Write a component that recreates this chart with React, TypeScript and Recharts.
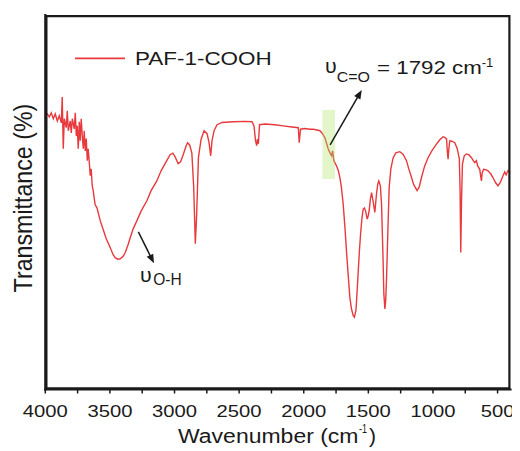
import React from 'react';
import { LineChart, Line, XAxis, YAxis, ReferenceArea, ReferenceLine, Legend } from 'recharts';

const FONT = "'Liberation Sans', Arial, Helvetica, sans-serif";
const RED = '#e8393d';
const INK = '#1a1a1a';

const seriesName = 'PAF-1-COOH';

const wavenumbers = [
  4000, 3985, 3969, 3954, 3938, 3923, 3907, 3892, 3876, 3869,
  3861, 3853, 3838, 3830, 3822, 3807, 3799, 3791, 3776, 3768,
  3760, 3753, 3745, 3737, 3730, 3722, 3714, 3706, 3699, 3691,
  3683, 3675, 3668, 3660, 3652, 3645, 3637, 3629, 3621, 3614,
  3600, 3575, 3549, 3529, 3498, 3475, 3459, 3441, 3420, 3397,
  3382, 3359, 3343, 3320, 3291, 3258, 3214, 3181, 3137, 3104,
  3060, 3034, 3013, 2995, 2972, 2953, 2931, 2910, 2899, 2883,
  2866, 2852, 2839, 2829, 2815, 2794, 2771, 2748, 2733, 2720,
  2710, 2694, 2671, 2632, 2547, 2454, 2400, 2385, 2373, 2364,
  2358, 2351, 2342, 2300, 2223, 2158, 2091, 2042, 2035, 2025,
  1991, 1952, 1926, 1898, 1875, 1859, 1836, 1811, 1797, 1784,
  1777, 1767, 1746, 1732, 1720, 1709, 1695, 1682, 1668, 1654,
  1643, 1631, 1617, 1608, 1596, 1589, 1578, 1569, 1560, 1550,
  1540, 1530, 1519, 1509, 1501, 1494, 1484, 1475, 1463, 1450,
  1437, 1427, 1419, 1407, 1398, 1388, 1380, 1372, 1366, 1359,
  1349, 1339, 1326, 1308, 1287, 1257, 1233, 1205, 1187, 1166,
  1149, 1123, 1106, 1089, 1064, 1038, 1009, 973, 947, 922,
  909, 895, 889, 883, 877, 870, 854, 831, 812, 796,
  790, 785, 779, 772, 758, 741, 723, 702, 688, 677,
  664, 654, 638, 630, 625, 619, 607, 592, 574, 553,
  536, 515, 497, 480, 458, 445, 434, 420, 400,
];

const transmittance = [
  73.3, 73.6, 72.8, 73.9, 72.3, 73.6, 71.7, 73.1, 71.2, 78.1,
  64.3, 72.3, 69.9, 74.4, 69.1, 71.7, 68.5, 72.3, 69.6, 73.9,
  67.7, 70.4, 64.3, 71.5, 66.4, 72.3, 67.7, 64.3, 69.1, 63.7,
  67.0, 61.1, 64.3, 60.8, 57.1, 58.9, 54.4, 53.1, 50.9, 49.3,
  48.5, 45.1, 42.4, 40.3, 37.9, 36.0, 35.2, 34.8, 34.9, 35.6,
  36.5, 38.7, 40.5, 42.9, 45.1, 47.7, 50.4, 53.1, 55.7, 58.4,
  61.1, 62.7, 63.1, 62.1, 60.3, 60.8, 62.9, 65.1, 65.9, 65.3,
  63.2, 54.4, 38.9, 46.4, 61.9, 66.9, 69.1, 68.3, 65.9, 62.4,
  66.4, 69.1, 70.7, 71.3, 71.5, 71.6, 71.5, 70.4, 66.4, 65.1,
  66.9, 65.6, 70.7, 70.9, 70.7, 70.4, 70.1, 69.9, 65.9, 69.5,
  69.7, 69.5, 69.5, 69.3, 69.1, 68.5, 67.2, 64.3, 63.2, 62.4,
  63.7, 61.1, 59.7, 58.4, 56.5, 54.1, 49.6, 43.7, 36.3, 29.6,
  24.5, 21.6, 19.7, 19.3, 21.1, 25.1, 31.7, 37.1, 41.6, 45.6,
  48.2, 48.5, 47.3, 45.5, 46.4, 47.7, 50.9, 52.6, 50.2, 47.3,
  52.2, 54.9, 55.7, 54.4, 49.5, 37.1, 25.5, 21.5, 23.7, 29.9,
  42.4, 53.9, 58.9, 61.9, 63.2, 63.5, 62.9, 61.1, 58.9, 56.6,
  54.7, 53.1, 54.1, 56.6, 59.7, 61.9, 63.7, 65.5, 66.7, 67.5,
  67.3, 66.9, 63.7, 61.5, 64.3, 66.4, 66.3, 65.9, 64.3, 61.6,
  53.1, 36.6, 50.4, 60.2, 62.4, 62.9, 62.7, 61.9, 61.1, 60.6,
  61.1, 59.7, 58.8, 56.8, 55.7, 57.9, 58.8, 58.7, 58.4, 57.6,
  56.6, 55.2, 54.4, 55.2, 57.1, 58.1, 57.3, 58.4, 57.9,
];

const xTicks = [4000, 3750, 3500, 3250, 3000, 2750, 2500, 2250, 2000, 1750, 1500, 1250, 1000, 750, 500];
const xLabelled = [4000, 3500, 3000, 2500, 2000, 1500, 1000, 500];
const xDomain = [400, 4000];
const yDomain = [0, 100];

// annotation anchors (data coordinates)
const ohArrow = [{ x: 3280, y: 42.1 }, { x: 3159, y: 33.7 }];
const coArrow = [{ x: 1796, y: 65.3 }, { x: 1551, y: 80.0 }];
const coHighlight = { x1: 1855, x2: 1758, y1: 56.2, y2: 74.6 };

// two reference points safely inside the plot, used to place the frame through the scales
const frameRefA = { x: 3900, y: 10 };
const frameRefB = { x: 500, y: 90 };

const data = wavenumbers.map((w, i) => ({ w, t: transmittance[i] }));

const frameLine = { stroke: INK, strokeWidth: 2.2, strokeLinecap: 'square' as const };

const XTick = (props: any) => {
  const { x, y, payload } = props;
  const v = payload.value;
  if (!xLabelled.includes(v)) return <g />;
  const s = String(v);
  return (
    <text x={x} y={y + 21.2} textAnchor="middle" fontSize={17.3} fontFamily={FONT} fill={INK}
      textLength={s.length * 11.25} lengthAdjust="spacingAndGlyphs">{s}</text>
  );
};

const XTitle = (props: any) => {
  const vb = props.viewBox || { x: 37.3, y: 381.5 };
  const bx = vb.x + 132.7;
  const by = vb.y + 53.2;
  return (
    <g fontFamily={FONT} fill={INK}>
      <text x={bx} y={by} fontSize={20} textLength={180.5} lengthAdjust="spacingAndGlyphs">Wavenumber (cm</text>
      <text x={bx + 181} y={by - 9.4} fontSize={12.5} textLength={8} lengthAdjust="spacingAndGlyphs">-1</text>
      <text x={bx + 191} y={by} fontSize={20} textLength={7} lengthAdjust="spacingAndGlyphs">)</text>
    </g>
  );
};

const YTitle = (props: any) => {
  const vb = props.viewBox || { x: 36.3, width: 1, y: 7, height: 374.5 };
  const cx = vb.x + (vb.width || 0) - 13.8;
  const cy = vb.y + vb.height / 2 - 4.2;
  return (
    <text transform={`translate(${cx},${cy}) rotate(-90)`} textAnchor="middle" fontSize={25}
      fontFamily={FONT} fill={INK} textLength={188.7} lengthAdjust="spacingAndGlyphs">Transmittance (%)</text>
  );
};

const arrowHead = (x1: number, y1: number, x2: number, y2: number) => {
  const dx = x2 - x1;
  const dy = y2 - y1;
  const len = Math.sqrt(dx * dx + dy * dy) || 1;
  const ux = dx / len;
  const uy = dy / len;
  const L = 9;
  const W = 3.6;
  const bx = x2 - ux * L;
  const by = y2 - uy * L;
  return {
    lineEnd: [bx + ux * 1, by + uy * 1],
    pts: `${x2},${y2} ${bx - uy * W},${by + ux * W} ${bx + uy * W},${by - ux * W}`,
  };
};

const bad = (arr: any[]) => arr.some((v) => typeof v !== 'number' || isNaN(v));

// draws the plot frame (inset by half a stroke so it stays inside any plot-area clip)
const FrameShape = (props: any) => {
  const { x1, y1, x2, y2 } = props;
  if (bad([x1, y1, x2, y2])) return <g />;
  const kx = (x2 - x1) / (frameRefB.x - frameRefA.x);
  const ky = (y2 - y1) / (frameRefB.y - frameRefA.y);
  const px = (v: number) => x1 + (v - frameRefA.x) * kx;
  const py = (v: number) => y1 + (v - frameRefA.y) * ky;
  const inset = 1.1;
  const l = px(xDomain[1]) + inset;
  const r = px(xDomain[0]) - inset;
  const t = py(yDomain[1]) + inset;
  const b = py(yDomain[0]) - inset;
  return (
    <path d={`M${l},${t} L${r},${t} L${r},${b} L${l},${b} Z`} fill="none" stroke={INK}
      strokeWidth={2.2} strokeLinejoin="miter" />
  );
};

const OHShape = (props: any) => {
  const { x1, y1, x2, y2 } = props;
  if (bad([x1, y1, x2, y2])) return <g />;
  const h = arrowHead(x1, y1, x2, y2);
  return (
    <g>
      <line x1={x1} y1={y1} x2={h.lineEnd[0]} y2={h.lineEnd[1]} stroke={INK} strokeWidth={1.5} />
      <polygon points={h.pts} fill={INK} />
      <g fontFamily={FONT} fill={INK}>
        <text x={x2 - 14} y={y2 + 18.4} fontSize={20} textLength={11.7} lengthAdjust="spacingAndGlyphs">υ</text>
        <text x={x2 - 0.7} y={y2 + 21.7} fontSize={16} textLength={28.4} lengthAdjust="spacingAndGlyphs">O-H</text>
      </g>
    </g>
  );
};

const COShape = (props: any) => {
  const { x1, y1, x2, y2 } = props;
  if (bad([x1, y1, x2, y2])) return <g />;
  const h = arrowHead(x1, y1, x2, y2);
  return (
    <g>
      <line x1={x1} y1={y1} x2={h.lineEnd[0]} y2={h.lineEnd[1]} stroke={INK} strokeWidth={1.5} />
      <polygon points={h.pts} fill={INK} />
      <g fontFamily={FONT} fill={INK}>
        <text x={x2 - 36.7} y={y2 - 16.5} fontSize={20} textLength={11.7} lengthAdjust="spacingAndGlyphs">υ</text>
        <text x={x2 - 25} y={y2 - 8.3} fontSize={14} textLength={33.3} lengthAdjust="spacingAndGlyphs">C=O</text>
        <text x={x2 + 15.3} y={y2 - 15.7} fontSize={17.6} textLength={104.7} lengthAdjust="spacingAndGlyphs">= 1792 cm</text>
        <text x={x2 + 120} y={y2 - 23.3} fontSize={13} textLength={11.6} lengthAdjust="spacingAndGlyphs">-1</text>
      </g>
    </g>
  );
};

const LegendContent = () => (
  <svg width={180} height={26} style={{ display: 'block', overflow: 'visible' }}>
    <line x1={7} x2={57} y1={10.3} y2={10.3} stroke={RED} strokeWidth={1.8} />
    <text x={67} y={17} fontSize={18.6} fontFamily={FONT} fill={INK} textLength={136.7}
      lengthAdjust="spacingAndGlyphs">{seriesName}</text>
  </svg>
);

export default function App() {
  return (
    <LineChart width={512} height={443} data={data}
      margin={{ top: 7, right: 9.5, bottom: 21.5, left: 36.3 }}>
      <XAxis type="number" dataKey="w" domain={xDomain} reversed ticks={xTicks} interval={0}
        allowDataOverflow axisLine={frameLine} tickSize={4} height={40}
        tickLine={{ stroke: INK, strokeWidth: 1.5 }} tick={<XTick />}
        label={{ content: (p: any) => <XTitle {...p} /> }} />
      <YAxis type="number" domain={yDomain} width={1} tick={false} axisLine={frameLine} tickLine={false}
        allowDataOverflow label={{ content: (p: any) => <YTitle {...p} /> }} />
      <Legend layout="horizontal" verticalAlign="middle" align="center" content={<LegendContent />}
        wrapperStyle={{ left: 60, top: 40, width: 180, height: 26 }} />
      <Line type="linear" dataKey="t" name={seriesName} stroke={RED} strokeWidth={1.4} dot={false}
        activeDot={false} isAnimationActive={false} />
      <ReferenceArea x1={coHighlight.x1} x2={coHighlight.x2} y1={coHighlight.y1} y2={coHighlight.y2}
        fill="#ade664" fillOpacity={0.35} stroke="none" ifOverflow="visible" zIndex={450} />
      <ReferenceLine segment={[frameRefA, frameRefB]} shape={(p: any) => <FrameShape {...p} />}
        ifOverflow="visible" zIndex={470} />
      <ReferenceLine segment={ohArrow} shape={(p: any) => <OHShape {...p} />} ifOverflow="visible" zIndex={470} />
      <ReferenceLine segment={coArrow} shape={(p: any) => <COShape {...p} />} ifOverflow="visible" zIndex={470} />
    </LineChart>
  );
}
